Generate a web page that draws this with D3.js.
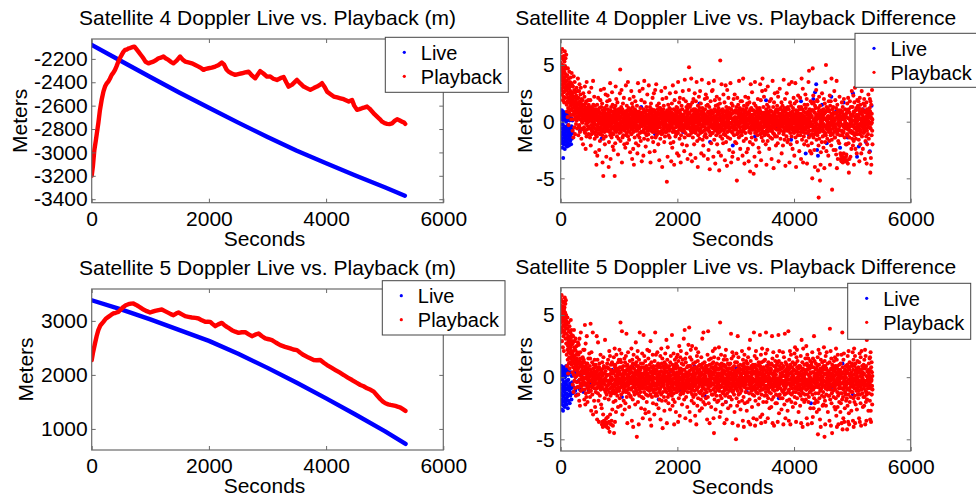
<!DOCTYPE html>
<html><head><meta charset="utf-8">
<script src="https://cdn.jsdelivr.net/npm/d3@7"></script>
<style>
html,body{margin:0;padding:0;background:#fff;}
svg{display:block;}
text{font-family:"Liberation Sans",Arial,Helvetica,sans-serif;fill:#000;}
</style>
</head><body>
<svg id="chart" width="976" height="499"></svg>
<script>
// ---------------- DATA ----------------
const titles = [
  "Satellite 4 Doppler Live vs. Playback (m)",
  "Satellite 4 Doppler Live vs. Playback Difference",
  "Satellite 5 Doppler Live vs. Playback (m)",
  "Satellite 5 Doppler Live vs. Playback Difference"
];
const seriesNames = ["Live", "Playback"];
const xLabel = "Seconds";
const yLabel = "Meters";
const xTicks = [0, 2000, 4000, 6000];
const sat4YTicks = [-3400, -3200, -3000, -2800, -2600, -2400, -2200];
const sat5YTicks = [1000, 2000, 3000];
const diffYTicks = [-5, 0, 5];

// Satellite 4 (metres vs seconds)
const sat4LiveT = [0, 500, 1000, 1500, 2000, 2500, 3000, 3500, 4000, 4500, 5000, 5344];
const sat4LiveV = [-2080, -2218, -2355, -2490, -2618, -2745, -2868, -2985, -3092, -3198, -3298, -3370];
const sat4PlaybackT = [0,20,45,70,90,113,140,170,200,227,255,284,310,341,370,398,425,455,485,512,540,569,600,630,655,690,729,760,797,830,860,883,920,968,1000,1053,1100,1139,1180,1224,1260,1310,1350,1395,1450,1509,1550,1595,1650,1709,1760,1823,1870,1908,1950,1994,2050,2108,2160,2221,2260,2300,2335,2390,2449,2500,2563,2620,2677,2730,2791,2840,2876,2930,2990,3047,3100,3161,3220,3275,3320,3360,3420,3503,3560,3617,3670,3731,3790,3845,3900,3930,3975,4016,4070,4130,4190,4244,4300,4386,4443,4480,4528,4570,4614,4660,4699,4740,4785,4830,4870,4915,4956,5000,5041,5080,5126,5170,5212,5250,5297,5330,5350];
const sat4PlaybackV = [-3200,-3120,-2980,-2900,-2830,-2750,-2640,-2550,-2480,-2437,-2410,-2394,-2370,-2337,-2318,-2294,-2262,-2223,-2190,-2166,-2140,-2123,-2120,-2110,-2108,-2100,-2095,-2115,-2138,-2160,-2180,-2195,-2225,-2238,-2232,-2223,-2210,-2195,-2190,-2180,-2195,-2209,-2225,-2238,-2215,-2180,-2205,-2223,-2230,-2238,-2250,-2266,-2280,-2294,-2285,-2280,-2275,-2266,-2255,-2232,-2250,-2290,-2309,-2325,-2337,-2330,-2323,-2315,-2309,-2340,-2366,-2330,-2305,-2325,-2352,-2351,-2370,-2380,-2365,-2355,-2400,-2437,-2420,-2380,-2410,-2437,-2450,-2465,-2450,-2437,-2420,-2408,-2440,-2480,-2500,-2522,-2530,-2537,-2545,-2565,-2551,-2600,-2636,-2630,-2622,-2615,-2608,-2625,-2650,-2675,-2694,-2715,-2737,-2750,-2756,-2758,-2751,-2730,-2716,-2725,-2737,-2745,-2756];

// Satellite 5 (metres vs seconds)
const sat5LiveT = [0, 500, 1000, 1500, 2000, 2500, 3000, 3500, 4000, 4500, 5000, 5356];
const sat5LiveV = [3382, 3212, 3028, 2830, 2630, 2390, 2130, 1855, 1565, 1268, 958, 724];
const sat5PlaybackT = [0,20,56,85,113,150,199,240,284,330,370,410,455,500,541,580,626,670,712,750,797,840,883,940,996,1040,1082,1140,1196,1250,1310,1350,1395,1440,1481,1540,1595,1650,1709,1770,1823,1880,1937,1980,2023,2060,2108,2160,2221,2260,2306,2350,2392,2450,2506,2560,2620,2680,2734,2790,2848,2900,2962,3020,3076,3140,3218,3300,3389,3440,3503,3560,3617,3700,3788,3840,3902,3960,4016,4090,4159,4230,4301,4370,4443,4510,4585,4640,4699,4760,4813,4870,4927,4970,5012,5060,5098,5140,5183,5230,5269,5310,5354];
const sat5PlaybackV = [2274,2400,2582,2720,2828,2920,2982,3040,3074,3110,3137,3150,3166,3215,3258,3290,3308,3320,3321,3300,3271,3240,3210,3180,3155,3170,3185,3200,3210,3180,3148,3125,3105,3135,3155,3120,3087,3075,3063,3055,3044,3010,2982,2985,2982,2945,2902,2935,2963,2925,2889,2860,2828,2800,2779,2790,2791,2750,2717,2745,2767,2720,2675,2660,2644,2600,2551,2520,2490,2470,2459,2410,2367,2320,2275,2270,2275,2225,2182,2135,2090,2045,1998,1950,1905,1860,1813,1790,1752,1725,1690,1620,1549,1505,1475,1455,1444,1435,1425,1410,1394,1365,1333];

// Live - Playback differences. Playback samples are in decimetres (0.1 m);
// each row is one 100 s block sampled every 2.5 s.
const diffBlockSeconds = 100;
const diffSampleSeconds = 2.5;
const sat4DiffPlaybackDm = [
[52,61,38,45,29,57,33,48,24,41,64,36,50,27,43,19,55,31,46,22,39,58,26,34,17,44,53,30,62,37,49,21,42,56,35,28,47,40,59,32],
[28,15,36,9,24,41,18,30,4,47,21,12,33,26,-3,38,17,29,8,44,19,25,11,35,22,31,14,27,6,39,20,16,34,2,23,43,10,26,18,32],
[12,25,-8,19,31,6,15,-14,22,40,9,17,2,28,-5,13,35,21,-11,7,26,16,4,11,18,-2,23,10,14,30,1,20,8,-6,16,27,5,12,38,3],
[8,-12,21,4,15,-4,27,10,-3,33,6,18,-9,13,2,24,9,11,30,-6,16,5,-15,9,20,12,0,7,14,-1,19,3,10,-20,6,25,11,-7,15,4],
[-5,14,3,22,-9,9,31,1,-10,16,7,-24,12,4,-2,6,18,-13,35,4,-7,11,8,-1,8,13,2,10,-4,19,5,-11,15,0,7,26,3,-6,12,9],
[10,-14,2,19,-6,7,-21,7,13,-3,30,-11,5,1,-8,0,12,-8,4,3,-5,9,36,-4,15,6,-2,11,-10,4,22,-1,8,-15,2,14,-6,5,-27,9],
[-9,8,4,-12,11,-38,6,-3,-13,1,15,-30,8,-4,2,-7,10,21,-10,3,-2,5,-1,9,-25,0,12,-6,4,-17,7,-11,19,1,-5,28,-8,3,13,-2],
[7,-9,4,-3,16,-12,0,-36,10,2,-7,3,-48,6,-15,9,-2,29,-5,5,12,-9,1,-20,8,-4,11,-1,24,-13,3,-6,6,-31,0,14,-8,2,-3,18],
[-4,4,23,-6,11,-8,1,-1,8,-40,3,-18,7,2,-9,19,-4,6,-3,34,-12,10,-33,0,5,-7,13,-2,9,-14,2,-10,26,4,-5,0,15,-22,6,-1],
[3,-11,8,-25,9,-4,2,-6,6,12,-48,1,-8,4,-19,14,-2,31,-3,7,-9,20,-5,10,-1,0,-13,5,-7,17,2,-4,9,-29,6,-2,11,-15,3,-6],
[-7,5,2,-10,11,-3,25,-2,46,8,-17,4,-1,-9,0,13,-7,28,-5,9,-36,6,-1,11,-14,3,-4,16,1,-12,7,-6,2,21,-3,8,-20,0,5,-8],
[2,-6,9,-23,3,8,-5,32,-2,4,-12,6,-10,14,1,-19,10,-4,7,-6,0,35,-13,2,-8,5,-1,12,-3,-16,6,3,-9,20,-2,9,-27,1,11,-5],
[-3,10,-2,6,27,-11,1,-7,1,16,-33,9,-6,4,13,-1,3,-24,8,-9,22,-4,-38,5,5,-2,7,-14,0,11,-5,2,18,-8,4,-1,-19,9,-3,6],
[9,-7,3,14,-8,3,-28,0,8,-12,34,6,-4,-21,1,2,-5,9,-6,4,-14,27,1,-10,7,-2,12,-3,5,-17,0,6,-9,19,-1,3,-35,8,-4,2],
[-1,6,29,-2,5,-9,8,-30,11,3,-7,2,-15,36,0,-3,17,-4,9,-10,4,-1,5,-22,3,7,-6,1,13,-12,2,-5,10,-2,24,-8,0,4,-16,6],
[4,-11,3,-6,32,1,-5,10,-3,9,-27,7,13,-1,0,4,-36,8,-8,16,-7,1,-2,8,-5,11,-14,2,6,-3,21,-9,0,5,-18,3,-1,10,-4,25],
[-6,9,-1,10,-26,6,4,-9,28,-4,2,-14,7,-3,1,33,-7,4,-12,5,-2,14,-8,8,1,-5,11,-1,3,-20,0,7,-10,16,-4,2,-34,6,-2,12],
[3,-5,12,-15,3,-9,10,8,-1,-2,27,5,-11,9,-8,6,-40,2,20,-10,7,-7,2,-3,11,0,-4,14,-6,4,-18,1,8,-2,5,-13,30,-1,6,-9],
[-2,7,-4,7,21,-9,2,-8,-53,3,10,-6,4,-31,1,9,-3,15,-4,-12,1,6,-5,8,-8,12,0,-14,3,25,-6,2,-1,11,-19,5,-2,6,-35,0],
[8,-4,16,-3,1,-23,4,7,-9,32,-1,-6,3,-18,6,11,-6,0,-38,5,-1,19,3,-9,10,-2,4,-13,2,26,-5,8,0,-11,13,-3,6,-1,-28,2],
[-9,12,-4,4,-10,35,2,-3,9,-30,8,-1,17,-7,2,-15,5,21,-6,-3,10,-1,7,-36,1,4,-12,3,-2,14,0,-8,6,-20,11,-4,2,27,-5,1],
[6,-3,20,-8,6,-8,4,-26,1,3,-14,37,-5,9,-3,9,-10,0,18,-1,3,-2,13,-5,4,-21,7,-6,2,11,-33,0,5,-12,15,-2,8,-4,1,28],
[48,-2,7,-12,8,-5,13,1,-7,2,-29,15,-8,4,-1,38,-10,0,-2,10,-35,5,-6,17,-4,3,-14,6,1,-9,20,-3,11,-1,4,-20,8,2,-6,25],
[5,-9,11,-1,-32,3,-10,18,3,-4,6,-7,35,-5,8,0,-17,9,-4,1,-40,14,2,-12,10,-3,4,-1,22,-8,6,-2,-15,12,0,-6,27,3,-10,7],
[-6,16,-3,9,-28,7,1,-9,37,-9,5,12,-3,-16,2,-4,9,4,-21,4,-1,-30,10,-8,7,3,-13,0,20,-5,11,-2,6,-11,1,24,-7,3,-1,14],
[1,-14,4,21,-7,5,-6,-2,15,-33,8,-1,9,1,-25,34,-5,3,-8,13,-9,3,-42,7,-4,6,-12,2,18,-3,0,10,-19,4,-2,8,-5,27,-10,2],
[-4,7,28,-10,2,-6,8,-31,2,-3,36,-2,5,-16,11,0,-5,19,-8,0,-37,4,-1,14,-7,3,9,-12,1,-4,22,-2,6,-20,10,-1,3,-9,15,-6],
[3,-10,12,-27,9,7,-4,-43,20,-3,6,-9,16,1,54,-13,1,-8,5,-30,10,-2,-6,33,-5,2,-1,8,-15,4,0,11,-7,3,-19,6,24,-3,-11,1],
[-8,3,-3,17,-11,4,-34,9,-6,9,-12,32,-1,4,-18,6,13,-4,-2,6,-39,10,28,-9,2,-5,1,-14,7,0,21,-3,5,-8,12,-1,-25,3,8,-6],
[5,-8,-15,5,34,-5,11,-1,11,-36,7,-2,16,3,-9,7,-5,-31,2,-10,14,0,-27,9,-4,1,20,-6,3,-12,8,-3,0,24,-7,4,-18,1,10,-2],
[-3,8,-6,8,-19,13,-7,2,-52,3,-11,21,-1,-10,10,4,-33,15,-3,7,-4,9,-14,36,-9,0,5,-2,12,-5,1,-24,6,-8,18,-1,3,-12,7,2],
[10,-12,3,18,-9,-1,6,-30,11,-4,5,38,-6,-8,2,-17,1,14,-1,8,-37,5,-3,10,-6,0,22,-10,4,-2,9,-15,3,-5,12,-27,1,6,-3,16],
[-2,15,-5,1,-24,2,21,-5,7,-35,8,-2,9,-9,17,-8,4,-18,4,-44,11,0,-10,33,-6,3,-1,12,-4,6,-14,2,26,-7,1,-3,10,-20,5,0],
[6,-7,10,-46,3,-4,16,-1,1,-31,7,-7,35,-10,9,-3,14,-2,-16,1,3,-39,9,-9,5,0,-5,12,-2,4,-12,8,20,-6,2,-1,7,-23,11,-3],
[-8,4,-27,4,12,-2,10,-3,33,-11,7,-6,19,-1,-34,3,-6,8,-14,2,-10,27,-8,5,38,-4,1,-17,6,0,13,-5,2,-9,22,-2,4,-12,8,-1],
[2,-11,7,-9,28,-2,-20,2,-4,6,11,-38,0,5,-7,15,-9,9,-4,-17,31,-2,4,-12,8,1,-5,13,-3,3,-24,6,0,18,-8,2,-1,10,-14,4],
[-5,9,-4,20,-8,1,-33,3,9,-8,-15,4,-1,36,-3,6,-10,13,-5,0,-41,6,-2,17,-11,2,7,-4,25,-6,1,-13,3,9,-2,5,-21,0,11,-3],
[9,-7,3,-13,14,-2,26,-1,-19,8,-7,22,-4,1,-35,5,11,-10,0,-6,7,-6,29,-5,7,-3,2,-15,4,12,-1,-8,6,-2,17,-28,3,0,-4,10],
[-4,14,-3,7,-21,8,-2,2,-11,37,-9,4,-6,5,-1,-16,12,-1,20,-5,9,-39,3,-7,10,0,-3,6,-13,2,25,-2,4,-8,1,-18,7,-1,13,-5],
[2,-16,5,11,-8,-6,33,-3,0,-36,7,-2,2,17,-10,8,-6,-20,5,-1,14,-4,6,-13,35,1,-7,3,-2,9,-24,4,0,12,-5,2,-9,21,-1,6],
[-10,6,-30,2,16,-5,1,-8,-1,34,-14,7,-2,10,-40,4,-3,18,-5,4,-18,8,-7,9,-9,1,3,-12,23,0,-4,6,-1,13,-6,2,-26,5,11,-2],
[7,-4,21,-12,-3,7,-9,4,-33,13,-6,1,38,-1,2,-16,6,-4,11,-9,29,-8,-36,4,2,-2,9,-13,0,5,-20,3,15,-6,1,-10,8,-2,24,-5],
[-7,12,-6,3,-17,8,-1,20,-3,-37,6,-4,15,-10,3,1,-21,9,-9,35,-5,6,-14,45,-3,2,-8,11,-1,4,-26,0,7,-12,18,-2,5,-4,10,-28],
[4,-19,5,-11,16,-50,10,-2,47,-8,10,-7,23,-14,1,-4,17,-5,2,-25,8,-11,8,-40,14,-1,3,-6,12,0,-9,5,28,-3,-16,2,6,-2,19,-7],
[-12,18,-10,3,-43,5,-6,12,-21,-67,9,-5,22,-3,-15,7,-9,4,-52,14,-7,0,-38,1,-27,3,-1,10,-4,6,-18,2,25,-8,1,-2,8,-13,4,-5],
[6,-8,-23,11,-2,20,-9,7,-41,3,-12,16,-4,-18,8,35,-10,2,-12,50,-5,9,-26,13,-6,1,-3,10,-15,4,0,-7,12,-2,5,-30,3,-1,18,-9],
[-5,9,-17,10,-4,23,-1,-38,14,-9,4,-12,18,-7,2,-21,7,38,-2,-16,5,-60,-3,11,-11,1,6,-6,13,-3,0,-25,8,-1,3,-9,27,-4,2,-14],
[1,-14,3,19,-5,-25,7,-6,12,-29,8,-8,36,-2,-41,4,-10,15,-11,5,-33,9,-8,-17,3,0,-3,10,-7,2,-19,6,22,-4,1,-12,5,-1,-28,8],
[-33,10,-8,-30,4,-35,2,-8,17,-34,-12,9,-31,-3,13,-36,-10,6,-32,6,-9,-28,20,-5,-34,-2,3,-14,-33,1,-6,11,-35,-1,4,-20,-31,7,-4,-29],
[4,-20,8,-11,-34,16,-2,-12,10,-37,-7,21,-6,3,-19,11,-45,-5,3,-14,-33,8,-3,18,-9,1,-4,-31,6,-1,13,-8,2,-24,5,-3,27,-10,0,-15],
[-9,13,-10,6,-21,5,-3,23,-4,-17,9,-38,8,-5,17,-12,1,-6,30,-10,2,-24,10,-1,-15,4,-2,12,-7,0,-28,6,3,-11,19,-4,1,-8,14,-3],
[5,-6,18,-4,-16,10,12,-2,-35,7,-7,21,-11,3,-20,15,-9,2,-8,34,-2,-28,8,-4,27,0,-13,6,-1,11,-5,3,-24,9,-3,1,16,-10,4,-1],
[-7,20,-9,2,-4,14,-33,8,9,-1,-17,2,36,-6,0,-13,17,-2,-37,5,-8,11,-20,5,-3,1,7,-11,3,-5,24,-2,9,-15,0,4,-27,6,-1,12],
[20,-5,9,-45,18,-6,4,-32,-2,15,-38,3,-12,7,-1,28,-8,2,-20]
];
const sat5DiffPlaybackDm = [
[58,44,63,36,51,47,66,40,55,29,49,61,38,53,45,24,57,42,50,33,60,46,21,54,37,48,56,41,64,35,52,43,59,31,47,62,39,50,27,45],
[35,18,42,27,9,31,48,22,14,39,25,3,33,44,20,29,11,37,26,16,41,7,30,23,12,28,36,19,24,46,15,32,21,38,10,26,34,17,29,13],
[19,4,27,-6,13,33,8,21,-12,16,2,38,11,24,-3,17,29,6,-9,14,22,0,31,9,-15,12,7,18,1,25,10,-4,15,5,20,-8,13,3,28,8],
[7,-14,18,2,26,-8,11,-19,4,31,-2,13,-23,9,20,-5,15,-11,36,1,-7,10,4,-7,5,8,-2,12,0,6,-10,16,3,-4,9,22,-1,5,14,-6],
[-4,12,-18,22,3,-10,42,-1,6,-22,8,27,-13,0,9,-6,-16,11,5,33,-5,2,-8,11,-20,4,-2,7,-9,1,15,-4,3,-12,6,0,19,-7,2,-3],
[9,-16,15,-3,-11,43,6,-11,4,-27,1,20,-8,-7,2,-2,12,-14,4,-3,36,-5,-30,7,3,-1,10,-6,0,-19,5,-9,2,14,-4,1,-24,8,-2,-5],
[-12,10,-5,-28,4,2,-9,33,-9,5,-34,-1,14,-5,6,-13,28,-7,1,-19,0,8,-36,8,-3,-2,11,-8,3,-15,-4,6,-1,18,-10,2,-6,-22,4,-3],
[5,-25,4,-38,-8,12,-36,1,-5,-40,7,-30,-4,16,-37,-2,9,-35,-10,3,-39,3,-17,-6,30,-36,-1,-12,5,-38,-3,8,-9,-33,1,-14,-40,2,-7,11],
[-37,-10,8,-32,-3,14,-41,-6,7,-18,2,-36,-12,21,-5,-44,2,-4,17,-30,-9,6,-15,-1,10,-38,-3,4,-8,-35,0,-13,12,-2,-26,-6,3,-11,-39,5],
[-8,10,-20,3,16,-11,-45,5,-7,-13,23,-2,-36,8,-4,10,-19,-4,1,-28,6,-9,18,-12,1,-3,-6,4,-15,0,-10,7,-2,-24,12,-5,2,-8,-1,14],
[4,-11,5,22,-9,-17,8,-3,-5,14,44,-23,2,-2,12,-14,19,-6,-8,8,37,-3,0,-30,6,-1,-7,3,-12,1,9,-4,-19,2,-10,5,-2,15,-6,-26],
[-8,12,-7,4,-21,3,-1,17,-12,9,-11,35,-5,-16,6,-4,2,-37,10,-7,0,-10,20,-3,-6,1,-13,5,-2,8,-24,0,-9,3,13,-5,-1,-15,7,-3],
[6,-16,8,-10,-2,23,-9,9,-35,4,-5,14,-3,1,-18,11,-8,-40,1,-5,18,-4,-12,7,-1,-7,3,-14,0,10,-3,-22,5,-9,2,28,-6,-1,12,-11],
[-4,9,-48,16,-6,5,-13,3,21,-2,-20,9,-2,1,-8,-38,7,14,-10,-15,4,-4,36,-6,0,-9,2,-12,6,-3,11,-1,-25,3,-7,8,-16,1,-4,19],
[1,-9,2,-33,11,-7,3,-17,34,-3,-4,8,-12,17,-1,-1,7,-26,5,-6,13,-9,-29,2,-5,4,-14,0,9,-2,-20,6,-8,1,22,-4,-10,3,-1,-15],
[-3,15,-5,7,-28,6,-8,21,-11,1,-2,10,-34,0,-6,-14,29,-2,4,-8,4,-39,12,-10,8,-1,-16,5,-4,2,-7,18,-3,-21,9,0,-12,3,-5,6],
[7,-10,-30,4,13,-7,-1,-5,36,-15,3,-1,-10,18,-13,6,-22,9,-7,-6,5,2,-15,20,-2,-4,1,-9,11,-3,0,-25,8,-6,2,-12,4,-1,-18,10],
[-10,2,-2,17,-4,-34,8,-8,5,-14,23,-1,-3,11,-19,0,-6,15,-6,-41,4,-12,1,-7,9,-2,-5,3,-16,7,-1,-27,12,0,-9,5,-3,19,-11,1],
[4,-19,10,-2,-1,30,-12,8,-37,5,-6,14,-7,-4,24,-16,1,-9,8,-21,3,-3,-14,0,9,-5,2,-11,6,-1,-26,12,-4,1,-8,17,-2,-13,5,-6],
[-11,6,-15,34,-3,-8,10,-23,2,-7,6,-18,4,-5,19,-1,-13,8,-38,9,-10,3,-20,14,-5,0,-4,7,-9,2,-28,11,-2,-6,1,16,-12,4,-1,-7],
[9,-6,18,-11,2,-36,1,-3,13,-4,-17,7,-9,25,-9,5,-31,3,-2,-6,16,-14,7,-1,21,-8,0,-12,4,-5,11,-2,-22,6,-7,1,-3,14,-10,2],
[-13,10,-8,-1,31,-5,6,-18,6,-11,38,-10,2,-6,15,-33,1,-7,12,-3,-16,4,-9,19,-3,0,-5,8,-24,3,-1,-12,9,-4,2,-8,26,-6,1,-2],
[3,40,-9,5,-28,9,-2,16,-3,-35,9,-7,22,-12,6,-6,-1,14,-19,2,-10,25,-14,1,-5,-3,7,-8,0,11,-16,4,-2,-21,6,-4,1,-11,8,-1],
[-7,1,-31,12,-6,3,-14,23,-2,8,-38,7,-2,-10,17,-9,4,-23,5,-4,13,-4,-17,20,-8,0,-3,9,-12,2,-6,6,-1,-27,10,-5,3,-13,1,-2],
[3,-18,4,-4,16,-11,10,-3,-25,8,-8,31,-7,2,-15,11,-1,7,-20,36,-5,-9,5,-1,-13,2,-6,12,-3,0,-22,6,-10,1,9,-4,-17,4,-2,7],
[-6,9,-12,9,-34,4,-2,18,-2,-16,6,37,-8,-9,6,-21,3,14,-4,-4,1,-37,10,-6,2,-3,-11,5,0,-7,15,-1,-24,8,-5,2,-14,4,-1,11],
[8,-5,-1,21,-14,7,-10,12,-33,2,-6,-45,16,-9,4,-18,5,-2,23,-3,-12,9,-26,9,-8,0,-4,6,-15,1,-2,11,-7,-20,3,-1,7,-10,2,-5],
[-4,15,-19,6,-6,24,-9,-11,3,1,-32,10,-2,44,-15,8,-3,-28,7,-7,18,-8,-1,-17,11,-2,4,-12,0,6,-22,2,-5,9,-1,-13,5,-3,14,-8],
[10,-11,5,-37,3,-1,17,-4,-15,9,-5,8,-20,22,-7,-9,2,-2,-34,14,-10,5,-13,6,-3,0,-6,11,-25,1,-4,7,-16,3,-1,10,-8,2,-11,4],
[-5,7,-16,11,-5,-23,4,-2,35,-10,2,-8,15,-18,0,-6,-1,20,-37,6,-12,8,-4,-11,17,-3,3,-7,1,-14,9,-2,-28,5,-6,2,12,-9,-1,4],
[5,-8,-50,2,-9,19,-17,1,-4,12,-23,6,-6,-11,33,-2,-39,9,-3,16,-14,4,-20,4,-8,-1,7,-5,0,-13,3,-7,10,-26,2,-2,6,-10,1,-4],
[-11,3,-7,21,-19,-3,9,-6,6,-35,14,-1,-1,5,-16,9,-40,11,-5,-8,18,-2,3,-21,7,0,-4,8,-12,2,-6,1,13,-9,-2,4,-27,6,-3,1],
[8,-20,11,-1,-1,16,-9,1,-36,4,-3,23,-13,-6,7,-18,7,-5,30,-3,-38,4,-9,13,-7,0,-2,9,-11,3,-5,2,-24,6,-1,-14,5,-4,10,-8],
[-2,8,-33,4,-10,36,-8,-15,3,-2,17,-7,8,-39,10,-10,-19,5,-4,21,-12,1,-4,15,-34,-1,6,-6,2,-9,3,-13,0,9,-3,-22,4,-1,12,-5],
[10,-7,-17,4,-5,2,34,-11,9,-32,7,-4,-8,18,-1,-37,6,-14,12,-1,-3,23,-30,1,-6,3,-10,5,-2,-20,8,0,-4,13,-9,2,-1,-15,6,-3],
[-9,14,-7,-36,1,-3,19,-12,36,-2,4,-20,9,-7,-15,4,-1,22,-9,8,-33,6,-10,-17,12,-4,2,-6,0,-12,7,-2,-25,3,-5,10,-1,-8,5,-3],
[7,-13,6,-2,-24,11,-3,10,-18,33,-6,-6,15,-37,3,-10,2,-8,20,-16,1,-1,9,-39,4,-4,0,-11,5,-2,-7,13,-1,-21,8,-3,2,-14,6,-5],
[-6,10,-21,17,-8,-10,5,-1,-36,12,-2,6,-15,34,-4,-8,13,-29,9,-4,21,-6,-14,6,-2,1,-9,3,-4,-17,8,0,-5,11,-26,2,-3,7,-11,1],
[2,-17,4,-3,20,-12,8,-38,9,-5,-7,16,-10,1,-22,5,-14,35,-3,-9,1,-33,12,-8,-4,0,6,-13,3,-1,-6,10,-19,2,-2,8,-27,4,-5,1],
[-5,37,-11,3,-35,6,-10,14,-18,7,-2,-5,21,-13,9,-38,10,-7,-7,18,-2,3,-20,4,-14,0,-4,8,-9,2,-1,12,-24,5,-3,1,-12,6,-6,-1],
[6,-4,-1,19,-16,10,-9,24,-8,-21,11,-4,-12,3,-36,5,-1,16,-8,-3,22,-17,8,-5,13,-2,0,-10,4,-6,2,-28,7,-1,-13,9,-3,1,-7,3],
[-9,9,-23,8,-6,-15,17,-2,2,-37,5,-11,30,-3,-6,1,-18,12,-9,-40,7,-1,-13,23,-1,-4,3,-8,6,0,-20,10,-5,2,-2,-14,4,-7,15,-3],
[3,-18,4,-10,25,-10,6,-33,11,-5,-2,18,-14,9,-38,6,-7,-9,15,-20,2,-4,-16,9,-3,1,-6,7,-12,0,-2,13,-25,4,-8,3,-1,-11,10,-4],
[-3,12,-37,8,-7,20,-3,-14,4,-32,15,-9,-10,4,-25,8,-4,33,-17,1,-1,13,-21,0,-5,-8,2,-13,6,-2,11,-6,-19,3,-1,7,-28,1,-4,9],
[0,-8,16,-20,-46,5,-8,-13,22,-2,5,-26,10,-1,-17,2,-6,19,-34,3,-11,7,-10,-40,14,-3,-5,1,-9,6,-1,-15,4,-7,12,-2,-23,0,8,-4],
[-12,6,-22,9,-3,24,-16,2,-7,-48,13,-7,-19,3,-38,9,-9,17,-4,-23,6,-14,7,-4,20,-1,-6,2,-10,0,-3,11,-28,4,-8,1,-15,5,-2,-5],
[4,-15,3,-35,12,-6,39,-9,-18,1,-10,21,-3,-39,7,-1,15,-21,6,-13,3,-45,10,-6,-7,0,-2,8,-11,2,-5,-16,5,-1,13,-8,1,-24,6,-3],
[-8,16,-10,9,-26,7,-17,4,23,-4,-31,2,-6,14,-40,7,-12,9,-1,-24,18,-2,-15,5,-38,0,-5,3,-9,1,-20,10,-3,-7,2,-13,6,-1,-28,4],
[11,-21,1,-9,-5,18,-37,4,-13,3,-18,36,-5,-42,8,-9,-16,0,-33,14,-4,-10,19,-2,-36,-1,5,-7,-25,2,-12,6,-3,-14,9,-8,0,-19,3,-6],
[-4,5,-17,4,-42,10,-10,-23,17,-9,8,-36,3,-14,21,-2,-29,7,-38,6,-5,12,-20,1,-11,-3,2,-8,-1,-16,9,-6,0,-27,4,-12,1,-7,11,-2],
[9,-12,20,-4,-35,6,-6,-17,14,-40,2,-8,23,-9,-20,9,-1,-15,17,-37,5,-3,11,-22,4,-2,-6,1,-11,7,-4,-26,3,0,-9,13,-1,-14,5,-7],
[-17,8,-11,35,-11,4,-33,12,-5,-3,19,-36,1,-14,6,-8,-21,16,-7,6,-39,3,-10,21,-5,0,-4,9,-2,-13,4,-1,-24,7,-6,2,-16,10,-3,-9],
[3,-23,14,-7,-16,7,-5,22,-38,8,-11,17,-3,-20,9,-12,-35,1,-14,30,-6,-18,5,-7,36,-2,0,-9,4,-1,-27,6,-4,11,-13,2,-8,-3,15,-5],
[-19,16,-34,0,-9,20,-27,5,-36,8,-3,-2,12,-14,4,-7,-22,1,-10]
];

// Visible Live difference points (seconds, metres)
const sat4DiffLiveT = [2,5,8,10,13,15,18,20,23,25,28,30,33,35,38,40,43,45,48,50,53,55,58,60,63,65,68,70,73,75,78,80,83,85,88,90,93,95,98,100,102,104,106,108,110,112,114,116,118,120,122,125,127,130,132,135,137,140,142,145,147,150,152,156,160,163,167,170,174,178,180,185,190,195,200,210,
  330,520,700,910,960,1150,1380,1620,1900,2100,2380,2560,2720,2950,3150,3330,3520,3700,3880,3950,4050,4120,4200,4260,4330,4360,4380,4395,4410,4480,4560,4640,4720,4790,4850,4920,5010,5080,5110,5180,5230,5270,5300,5330];
const sat4DiffLiveV = [-0.3,0.8,-1.2,0.2,-1.9,-0.6,1.0,-1.5,0.4,-0.9,-2.3,0.6,-0.2,-1.7,0.9,-1.1,-3.2,0.1,-0.7,-2.0,0.5,-1.4,0.7,-0.4,-1.8,0.3,-1.0,-2.4,0.8,-0.5,-1.3,0.2,-1.6,0.5,-0.8,-2.1,0.0,-1.2,0.6,-0.6,-1.8,-1.5,0.5,0.3,-2.2,-0.9,-0.4,-1.9,-1.2,0.4,0.7,-0.3,-1.9,-1.1,-0.8,0.2,0.4,-1.6,-2.1,-0.5,-1.4,0.1,0.2,-0.6,-0.9,-1.7,0.3,-1.3,-1.1,-2.0,0.3,-0.4,-1.5,-0.7,0.1,-1.0,
  -0.8,1.1,-1.5,0.7,0.9,-0.4,1.3,-1.1,0.5,-0.9,1.6,-1.8,0.3,-2.1,0.8,-1.3,1.9,-0.6,1.2,-1.6,0.4,1.8,-2.8,-1.2,2.0,2.6,3.3,-2.5,-3.0,1.5,-1.9,2.2,0.9,-2.3,1.7,-1.4,2.5,-3.1,-2.2,1.1,-1.8,0.6,-2.6,1.4];
const sat5DiffLiveT = [2,5,8,10,13,15,18,20,23,25,28,30,33,35,38,40,43,45,48,50,53,55,58,60,63,65,68,70,73,75,78,80,83,85,88,90,93,95,98,100,102,105,107,110,112,115,117,120,122,125,127,130,132,135,137,140,142,147,150,155,160,165,170,175,180,185,190,195,200,205,215,220,230,240,250,260,280,300,330,360,390,420,450,480,510,540,
  700,880,1050,1230,1470,1680,1890,2050,2290,2470,2640,2830,3010,3190,3370,3560,3740,3930,4110,4290,4470,4650,4830,5010,5190,5300];
const sat5DiffLiveV = [0.4,-1.3,-2.2,0.9,-0.6,-1.8,0.1,-2.6,-0.9,0.7,-1.5,-0.2,-2.0,0.5,-1.1,-2.7,0.2,-0.7,-1.6,0.8,-2.3,-0.4,0.3,-1.2,-1.9,0.6,-0.8,-2.4,0.0,-1.4,0.5,-0.5,-2.1,-1.0,0.4,-1.7,-0.3,0.9,-1.3,-0.6,-2.2,0.2,0.6,-1.9,-1.6,-0.9,-0.3,0.5,-2.5,-1.4,0.2,-0.2,-1.0,-0.8,-1.9,0.3,0.7,-0.7,-1.1,-2.1,-0.5,-1.5,0.4,-1.3,-0.9,-1.8,0.1,-0.4,-0.7,-1.3,-0.8,-1.2,0.2,0.4,-1.1,-0.9,-1.4,-0.3,-1.0,0.2,-1.2,-0.6,0.3,-1.1,-0.4,-0.8,
  -0.9,0.6,-1.6,0.8,-0.4,-1.8,0.5,-1.1,0.9,-1.5,-0.2,-2.0,0.7,-1.2,-0.6,1.0,-1.7,0.3,-1.0,-2.1,0.4,-0.8,1.1,-1.4,-0.3,-0.7];

// ---------------- DRAWING ----------------
const COLORS = {live: "#0000ff", playback: "#ff0000", axis: "#6a6a6a"};
const svg = d3.select("#chart");
const fmt = d => String(d);

function zipPairs(T, V) { return T.map((t, i) => [t, V[i]]); }
function blockPoints(rows) {
  const out = [];
  rows.forEach((row, b) => row.forEach((dm, j) => out.push([b * diffBlockSeconds + j * diffSampleSeconds, dm / 10])));
  return out;
}

const panels = [
  {key: "a", x0: 91.7, x1: 443.3, y0: 39, y1: 202.7, yDomain: [-3430, -2030], yTicks: sat4YTicks, title: titles[0],
   kind: "line", live: zipPairs(sat4LiveT, sat4LiveV), playback: zipPairs(sat4PlaybackT, sat4PlaybackV),
   legend: {x: 385.3, y: 37.3, w: 123, h: 55}, labelPad: 4, ylx: 27},
  {key: "b", x0: 560.7, x1: 910.7, y0: 39.3, y1: 202.7, yDomain: [-7.15, 7.27], yTicks: diffYTicks, title: titles[1],
   kind: "scatter", live: zipPairs(sat4DiffLiveT, sat4DiffLiveV), playback: blockPoints(sat4DiffPlaybackDm),
   legend: {x: 855, y: 33.3, w: 126, h: 54}, labelPad: 6, ylx: 532},
  {key: "c", x0: 91.7, x1: 443.3, y0: 289, y1: 450, yDomain: [610, 3590], yTicks: sat5YTicks, title: titles[2],
   kind: "line", live: zipPairs(sat5LiveT, sat5LiveV), playback: zipPairs(sat5PlaybackT, sat5PlaybackV),
   legend: {x: 382.3, y: 280.7, w: 122.7, h: 54.3}, labelPad: 4, ylx: 33},
  {key: "d", x0: 560.7, x1: 910.7, y0: 287.7, y1: 451, yDomain: [-5.94, 7.2], yTicks: diffYTicks, title: titles[3],
   kind: "scatter", live: zipPairs(sat5DiffLiveT, sat5DiffLiveV), playback: blockPoints(sat5DiffPlaybackDm),
   legend: {x: 847.7, y: 283.3, w: 123, h: 56}, labelPad: 6, ylx: 532}
];

const defs = svg.append("defs");

panels.forEach(p => {
  const x = d3.scaleLinear().domain([0, 6000]).range([p.x0, p.x1]);
  const y = d3.scaleLinear().domain(p.yDomain).range([p.y1, p.y0]);
  const g = svg.append("g").attr("class", "panel-" + p.key);

  defs.append("clipPath").attr("id", "clip-" + p.key)
    .append("rect").attr("x", p.x0).attr("y", p.y0).attr("width", p.x1 - p.x0).attr("height", p.y1 - p.y0);

  const plot = g.append("g").attr("clip-path", `url(#clip-${p.key})`);
  if (p.kind === "line") {
    const line = d3.line().x(d => x(d[0])).y(d => y(d[1]));
    plot.append("path").datum(p.live).attr("d", line)
      .attr("fill", "none").attr("stroke", COLORS.live).attr("stroke-width", 4.4)
      .attr("stroke-linejoin", "round").attr("stroke-linecap", "round");
    plot.append("path").datum(p.playback).attr("d", line)
      .attr("fill", "none").attr("stroke", COLORS.playback).attr("stroke-width", 4.4)
      .attr("stroke-linejoin", "round").attr("stroke-linecap", "round");
  } else {
    plot.append("g").selectAll("circle").data(p.live).join("circle")
      .attr("cx", d => x(d[0])).attr("cy", d => y(d[1])).attr("r", 2).attr("fill", COLORS.live);
    plot.append("g").selectAll("circle").data(p.playback).join("circle")
      .attr("cx", d => x(d[0])).attr("cy", d => y(d[1])).attr("r", 2.05).attr("fill", COLORS.playback);
  }

  // axes (inward ticks on all four sides, MATLAB style)
  const styleAxis = sel => {
    sel.select(".domain").remove();
    sel.selectAll(".tick line").attr("stroke", COLORS.axis).attr("stroke-width", 1);
    sel.selectAll(".tick text").attr("font-size", "21px").attr("fill", "#000")
      .attr("font-family", '"Liberation Sans", Arial, sans-serif');
  };
  g.append("g").attr("transform", `translate(0,${p.y1})`)
    .call(d3.axisBottom(x).tickValues(xTicks).tickFormat(fmt).tickSizeInner(-4).tickSizeOuter(0).tickPadding(8))
    .call(styleAxis);
  g.append("g").attr("transform", `translate(0,${p.y0})`)
    .call(d3.axisTop(x).tickValues(xTicks).tickFormat("").tickSizeInner(-4).tickSizeOuter(0))
    .call(styleAxis);
  g.append("g").attr("transform", `translate(${p.x0},0)`)
    .call(d3.axisLeft(y).tickValues(p.yTicks).tickFormat(fmt).tickSizeInner(-4).tickSizeOuter(0).tickPadding(p.labelPad))
    .call(styleAxis);
  g.append("g").attr("transform", `translate(${p.x1},0)`)
    .call(d3.axisRight(y).tickValues(p.yTicks).tickFormat("").tickSizeInner(-4).tickSizeOuter(0))
    .call(styleAxis);

  g.append("rect").attr("x", p.x0).attr("y", p.y0).attr("width", p.x1 - p.x0).attr("height", p.y1 - p.y0)
    .attr("fill", "none").attr("stroke", COLORS.axis).attr("stroke-width", 1.2);

  const cx = (p.x0 + p.x1) / 2, cy = (p.y0 + p.y1) / 2;
  g.append("text").attr("x", cx).attr("y", p.y0 - 14).attr("text-anchor", "middle")
    .attr("font-size", "21px").text(p.title);
  g.append("text").attr("x", cx - 3).attr("y", p.y1 + 43).attr("text-anchor", "middle")
    .attr("font-size", "21px").text(xLabel);
  g.append("text").attr("transform", `translate(${p.ylx},${cy}) rotate(-90)`).attr("text-anchor", "middle")
    .attr("font-size", "21px").text(yLabel);

  // legend
  const L = p.legend;
  const lg = g.append("g");
  lg.append("rect").attr("x", L.x).attr("y", L.y).attr("width", L.w).attr("height", L.h)
    .attr("fill", "#fff").attr("stroke", "#444").attr("stroke-width", 1);
  const items = [{name: seriesNames[0], color: COLORS.live}, {name: seriesNames[1], color: COLORS.playback}];
  items.forEach((it, i) => {
    const by = L.y + 22.5 + i * 24;
    lg.append("circle").attr("cx", L.x + 19).attr("cy", by - 7.5).attr("r", 1.6).attr("fill", it.color);
    lg.append("text").attr("x", L.x + 35.5).attr("y", by).attr("font-size", "20px").text(it.name);
  });
});
</script>
</body></html>
